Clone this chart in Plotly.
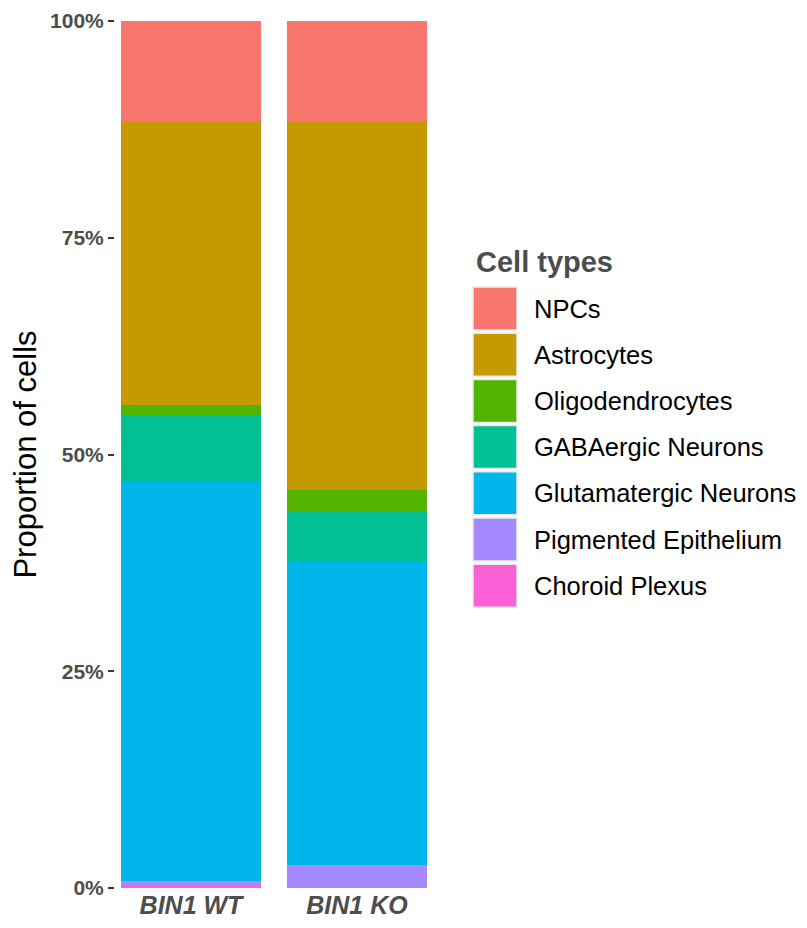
import plotly.graph_objects as go

groups = ["BIN1 WT", "BIN1 KO"]
cell_types = ["NPCs", "Astrocytes", "Oligodendrocytes", "GABAergic Neurons",
              "Glutamatergic Neurons", "Pigmented Epithelium", "Choroid Plexus"]
colors = ["#F8766D", "#C49A00", "#53B400", "#00C094", "#00B6EB", "#A58AFF", "#FB61D7"]
# percentages per cell type: [WT, KO]
values = {
    "NPCs": [11.5, 11.5],
    "Astrocytes": [32.8, 42.6],
    "Oligodendrocytes": [1.1, 2.4],
    "GABAergic Neurons": [7.8, 5.9],
    "Glutamatergic Neurons": [46.0, 35.0],
    "Pigmented Epithelium": [0.5, 2.5],
    "Choroid Plexus": [0.3, 0.1],
}
y_ticks = [0, 25, 50, 75, 100]
y_ticklabels = ["0%", "25%", "50%", "75%", "100%"]

OFF = 8  # browser body margin
W, H = 807 - 2 * OFF, 928 - 2 * OFF
L, R, T, B = 115 - OFF, 440 - OFF, 21 - OFF, 888 - OFF
FONT = "Liberation Sans, Arial, sans-serif"

fig = go.Figure()
for ct, col in reversed(list(zip(cell_types, colors))):
    fig.add_trace(go.Bar(x=list(range(len(groups))), y=values[ct], name=ct,
                         marker=dict(color=col, line=dict(width=0)),
                         width=0.843, showlegend=False))

def px(x):
    return (x - OFF - L) / (R - L)

def py(y):
    return (B - (y - OFF)) / (B - T)

shapes, annots = [], []
annots.append(dict(x=px(474), y=py(262), xref="paper", yref="paper", xanchor="left",
                    yanchor="middle", showarrow=False, text="<b>Cell types</b>",
                    font=dict(family=FONT, size=29, color="#4D4D4D")))
pitch = 46.2
for i, (ct, col) in enumerate(zip(cell_types, colors)):
    top = 287 + pitch * i
    shapes.append(dict(type="rect", xref="paper", yref="paper",
                       x0=px(473), x1=px(517), y0=py(top + 43), y1=py(top),
                       fillcolor=col, line=dict(color="#EBEBEB", width=1.5)))
    annots.append(dict(x=px(532), y=py(top + 21.5), xref="paper", yref="paper",
                       xanchor="left", yanchor="middle", showarrow=False, text=ct,
                       font=dict(family=FONT, size=25.5, color="black")))

fig.update_layout(
    width=W, height=H, barmode="stack", bargap=0,
    plot_bgcolor="white", paper_bgcolor="white",
    margin=dict(l=L, r=W - R, t=T, b=H - B, pad=0),
    font=dict(family=FONT),
    xaxis=dict(range=[-(191 - 115) / 166, 1 + (440 - 357) / 166],
               tickvals=list(range(len(groups))),
               ticktext=[f"<b><i>{g}</i></b>" for g in groups],
               tickfont=dict(family=FONT, size=25, color="#4D4D4D"),
               showgrid=False, zeroline=False, showline=False, ticks="",
               automargin=False),
    yaxis=dict(range=[0, 100], tickvals=y_ticks, ticktext=y_ticklabels,
               tickfont=dict(family=FONT, size=21, color="#4D4D4D", weight="bold"),
               ticks="outside", ticklen=6, tickwidth=2, tickcolor="#333333",
               showgrid=False, zeroline=False, showline=False, automargin=False,
               title=dict(text="Proportion of cells", standoff=6,
                          font=dict(family=FONT, size=31, color="black"))),
    shapes=shapes, annotations=annots,
)

fig.write_html("out.html")
